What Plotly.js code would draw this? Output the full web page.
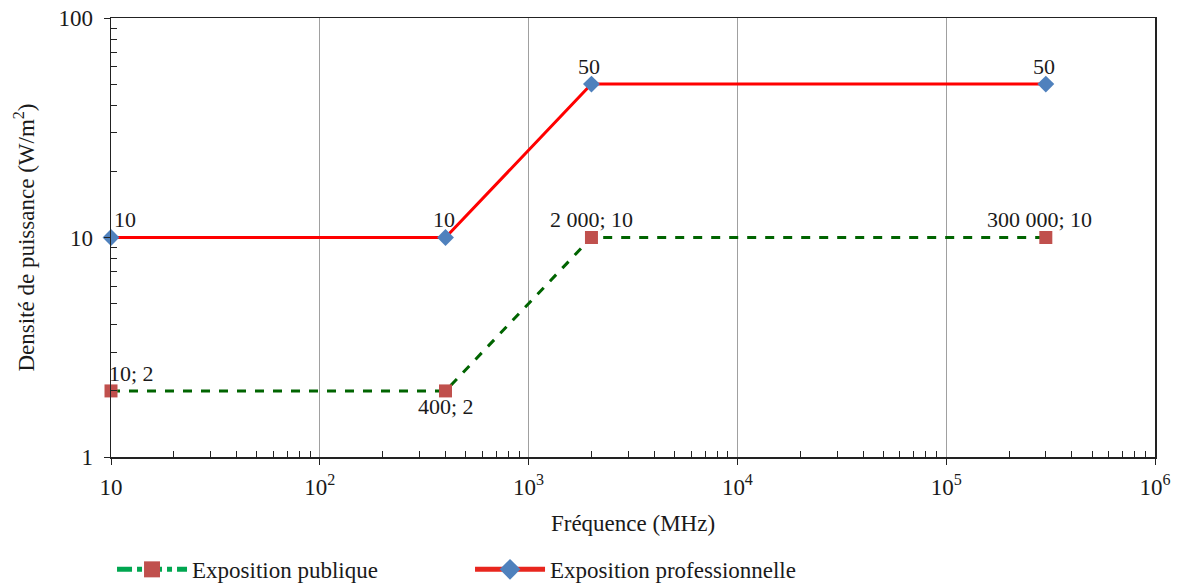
<!DOCTYPE html>
<html>
<head>
<meta charset="utf-8">
<script src="https://cdn.plot.ly/plotly-3.0.1.min.js"></script>
<style>body{margin:0;background:#fff}#chart{width:1183px;height:584px}</style>
</head>
<body>
<div id="chart"></div>
<script>
// Data
const freqPublic = [10, 400, 2000, 300000];
const densPublic = [2, 2, 10, 10];
const labelsPublic = ["10; 2", "400; 2", "2 000; 10", "300 000; 10"];
const freqPro = [10, 400, 2000, 300000];
const densPro = [10, 10, 50, 50];
const labelsPro = ["10", "10", "50", "50"];
const seriesNames = ["Exposition publique", "Exposition professionnelle"];
const xTickVals = [10, 100, 1000, 10000, 100000, 1000000];
const xTickText = ["10", "10<sup>2</sup>", "10<sup>3</sup>", "10<sup>4</sup>", "10<sup>5</sup>", "10<sup>6</sup>"];
const yTickVals = [1, 10, 100];
const yTickText = ["1", "10", "100"];

const font = "'Liberation Serif', 'Times New Roman', serif";
const txt = "#1a1a1a";

const traces = [
  {
    x: freqPublic, y: densPublic, name: seriesNames[0], showlegend: false,
    mode: "lines+markers", type: "scatter",
    line: {color: "#006400", width: 3, dash: "dash"},
    marker: {symbol: "square", size: 13, color: "#C0504D"},
    cliponaxis: false
  },
  {
    x: freqPro, y: densPro, name: seriesNames[1], showlegend: false,
    mode: "lines+markers", type: "scatter",
    line: {color: "#FF0000", width: 3},
    marker: {symbol: "diamond", size: 13, color: "#4F81BD"},
    cliponaxis: false
  },
  // legend entries
  {
    x: [null], y: [null], name: seriesNames[0], mode: "lines+markers", type: "scatter",
    line: {color: "#00A650", width: 5, dash: "dashdot"},
    marker: {symbol: "square", size: 16, color: "#C0504D"}
  },
  {
    x: [null], y: [null], name: seriesNames[1], mode: "lines+markers", type: "scatter",
    line: {color: "#E8261E", width: 5},
    marker: {symbol: "diamond", size: 16, color: "#4F81BD"}
  }
];

// data labels positioned through data coordinates
const pubAnchor = ["left", "center", "center", "center"];
const pubShift = [17, -16, 18, 18];
const proAnchor = ["left", "center", "center", "center"];
const annotations = [];
labelsPublic.forEach((t, i) => annotations.push({
  x: Math.log10(freqPublic[i]), y: Math.log10(densPublic[i]), text: t, showarrow: false,
  xanchor: pubAnchor[i], yanchor: "middle", yshift: pubShift[i], xshift: i === 0 ? -4 : (i === 3 ? -6 : 0),
  font: {family: font, size: 22, color: txt}
}));
labelsPro.forEach((t, i) => annotations.push({
  x: Math.log10(freqPro[i]), y: Math.log10(densPro[i]), text: t, showarrow: false,
  xanchor: proAnchor[i], yanchor: "middle", yshift: 18, xshift: i === 0 ? 1 : -2,
  font: {family: font, size: 22, color: txt}
}));

const layout = {
  width: 1183, height: 584,
  margin: {l: 111, r: 28, t: 18, b: 127, autoexpand: false},
  paper_bgcolor: "#fff", plot_bgcolor: "#fff",
  font: {family: font, size: 23, color: txt},
  showlegend: true,
  annotations: annotations,
  legend: {
    orientation: "h", x: 0.0947, xref: "container", xanchor: "left",
    y: 0.025, yref: "container", yanchor: "middle",
    font: {family: font, size: 23, color: txt},
    itemwidth: 70, entrywidth: 273, entrywidthmode: "pixels", traceorder: "normal"
  },
  xaxis: {
    type: "log", range: [1, 6],
    tickmode: "array", tickvals: xTickVals, ticktext: xTickText,
    ticks: "outside", ticklen: 6, tickcolor: "#222", ticklabelstandoff: 3,
    showline: true, linecolor: "#222", linewidth: 1.5, mirror: true,
    showgrid: true, gridcolor: "#A0A0A0", gridwidth: 1,
    zeroline: false, automargin: false,
    tickfont: {family: font, size: 23, color: txt},
    minor: {ticks: "inside", ticklen: 6, tickcolor: "#222", tickvals: [20,30,40,50,60,70,80,90,200,300,400,500,600,700,800,900,2000,3000,4000,5000,6000,7000,8000,9000,20000,30000,40000,50000,60000,70000,80000,90000,200000,300000,400000,500000,600000,700000,800000,900000], showgrid: false},
    title: {text: "Fréquence (MHz)", font: {family: font, size: 23, color: txt}, standoff: 16}
  },
  yaxis: {
    type: "log", range: [0, 2],
    tickmode: "array", tickvals: yTickVals, ticktext: yTickText,
    ticks: "outside", ticklen: 6, tickcolor: "#222", ticklabelstandoff: 6,
    showline: true, linecolor: "#222", linewidth: 1.5, mirror: true,
    showgrid: false, zeroline: false, automargin: false,
    tickfont: {family: font, size: 23, color: txt},
    minor: {ticks: "inside", ticklen: 6, tickcolor: "#222", tickvals: [2,3,4,5,6,7,8,9,20,30,40,50,60,70,80,90], showgrid: false},
    title: {text: "Densité de puissance (W/m<sup>2</sup>)", font: {family: font, size: 23, color: txt}, standoff: 17}
  }
};

Plotly.newPlot("chart", traces, layout, {displayModeBar: false, staticPlot: true});
</script>
</body>
</html>
